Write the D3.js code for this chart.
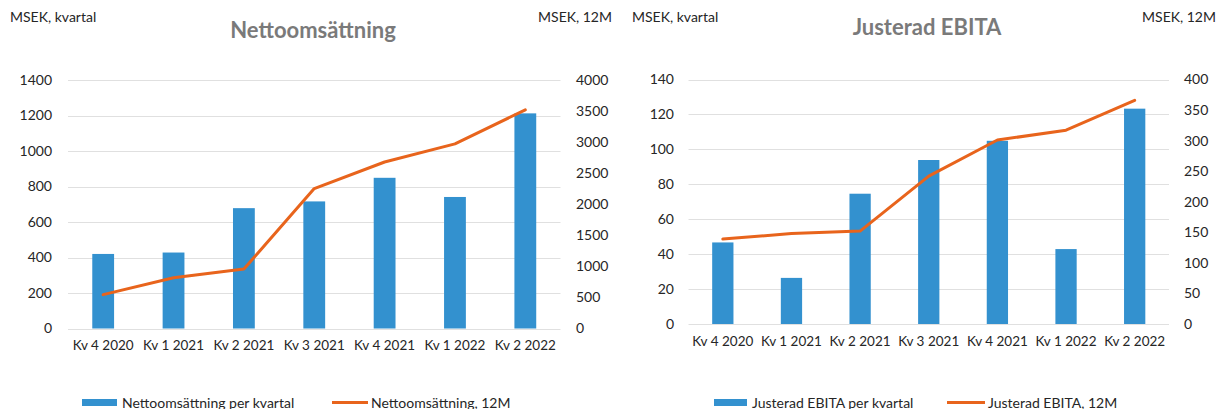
<!DOCTYPE html>
<html><head><meta charset="utf-8">
<script src="https://cdn.jsdelivr.net/npm/d3@7"></script>
<style>
body{margin:0;background:#fff;}
svg text{font-family:Lato,"Open Sans",sans-serif;fill:#262626;}
</style></head>
<body><svg id="c" width="1221" height="409"></svg>
<script>
const categories = ["Kv 4 2020","Kv 1 2021","Kv 2 2021","Kv 3 2021","Kv 4 2021","Kv 1 2022","Kv 2 2022"];
const salesQuarter = [420, 428, 678, 716, 849, 741, 1212];
const sales12M = [545, 816, 956, 2252, 2680, 2972, 3520];
const ebitaQuarter = [46.7, 26.4, 74.6, 93.9, 104.9, 42.9, 123.3];
const ebita12M = [139, 148, 152, 242, 301, 317, 366];
const salesLeftTicks = [0,200,400,600,800,1000,1200,1400];
const salesRightTicks = [0,500,1000,1500,2000,2500,3000,3500,4000];
const ebitaLeftTicks = [0,20,40,60,80,100,120,140];
const ebitaRightTicks = [0,50,100,150,200,250,300,350,400];

const BLUE = "#3391cf", ORANGE = "#e8641c", GRID = "#e0e0e0";
const svg = d3.select("#c");
const fmt = d3.format("d");

function chart(o){
  const g = svg.append("g");
  const x = d3.scaleBand().domain(categories).range([o.x0, o.x1]).paddingInner(0.69).paddingOuter(0.345);
  const yL = d3.scaleLinear().domain([0, o.lmax]).range([o.yb, o.yt]);
  const yR = d3.scaleLinear().domain([0, o.rmax]).range([o.yb, o.yt]);
  g.append("g").selectAll("line").data(o.lt).join("line")
    .attr("x1", o.x0).attr("x2", o.x1)
    .attr("y1", d=>Math.round(yL(d))+0.5).attr("y2", d=>Math.round(yL(d))+0.5)
    .attr("stroke", GRID).attr("stroke-width", 1);
  const ax = g.append("g").attr("transform", `translate(${o.lx},0)`)
    .call(d3.axisLeft(yL).tickValues(o.lt).tickFormat(fmt).tickSize(0).tickPadding(0));
  ax.select(".domain").remove();
  ax.selectAll("text").attr("font-size", 14).attr("fill","#262626").attr("font-family","Lato");
  const ar = g.append("g").attr("transform", `translate(${o.rx},0)`)
    .call(d3.axisRight(yR).tickValues(o.rt).tickFormat(fmt).tickSize(0).tickPadding(0));
  ar.select(".domain").remove();
  ar.selectAll("text").attr("font-size", 14).attr("fill","#262626").attr("font-family","Lato");
  g.append("g").selectAll("rect").data(o.bars).join("rect")
    .attr("x", (d,i)=>x(categories[i])).attr("width", x.bandwidth())
    .attr("y", d=>yL(d)).attr("height", d=>yL(0)-yL(d)).attr("fill", BLUE);
  const line = d3.line().x((d,i)=>x(categories[i])+x.bandwidth()/2).y(d=>yR(d));
  g.append("path").datum(o.line).attr("d", line).attr("fill","none")
    .attr("stroke", ORANGE).attr("stroke-width", 3).attr("stroke-linejoin","round").attr("stroke-linecap","round");
  const xa = g.append("g").attr("transform", `translate(0,${o.xy})`)
    .call(d3.axisBottom(x).tickSize(0).tickPadding(0));
  xa.select(".domain").remove();
  xa.selectAll("text").attr("font-size", 13.5).attr("fill","#262626").attr("font-family","Lato");
  g.append("text").attr("x", o.tx).attr("y", o.ty).attr("text-anchor","middle")
    .attr("font-size", 22).attr("font-weight","bold").style("fill","#7a7a7a").text(o.title);
  g.append("text").attr("x", o.ul).attr("y", 22).attr("font-size", 14).text("MSEK, kvartal");
  g.append("text").attr("x", o.ur).attr("y", 22).attr("text-anchor","end").attr("font-size", 14).text("MSEK, 12M");
  const lg = g.append("g");
  lg.append("rect").attr("x", o.lg[0]).attr("y", 399).attr("width", o.lg[1]-o.lg[0]).attr("height", 7).attr("fill", BLUE);
  lg.append("text").attr("x", o.lg[1]+5).attr("y", 408).attr("font-size", 14).text(o.leg1);
  lg.append("line").attr("x1", o.lg[2]).attr("x2", o.lg[3]).attr("y1", 402.5).attr("y2", 402.5)
    .attr("stroke", ORANGE).attr("stroke-width", 3);
  lg.append("text").attr("x", o.lg[3]+3).attr("y", 408).attr("font-size", 14).text(o.leg2);
}

chart({x0:68, x1:560.5, yb:328.5, yt:80, lmax:1400, rmax:4000, lt:salesLeftTicks, rt:salesRightTicks,
  lx:52, rx:576, bars:salesQuarter, line:sales12M, xy:340, tx:313, ty:38, title:"Nettoomsättning",
  ul:10, ur:612, lg:[82,117,332,368], leg1:"Nettoomsättning per kvartal", leg2:"Nettoomsättning, 12M"});
chart({x0:688.5, x1:1169, yb:324, yt:79.5, lmax:140, rmax:400, lt:ebitaLeftTicks, rt:ebitaRightTicks,
  lx:674, rx:1184, bars:ebitaQuarter, line:ebita12M, xy:336, tx:927, ty:35, title:"Justerad EBITA",
  ul:632, ur:1216, lg:[714,747,947,985], leg1:"Justerad EBITA per kvartal", leg2:"Justerad EBITA, 12M"});
</script></body></html>
